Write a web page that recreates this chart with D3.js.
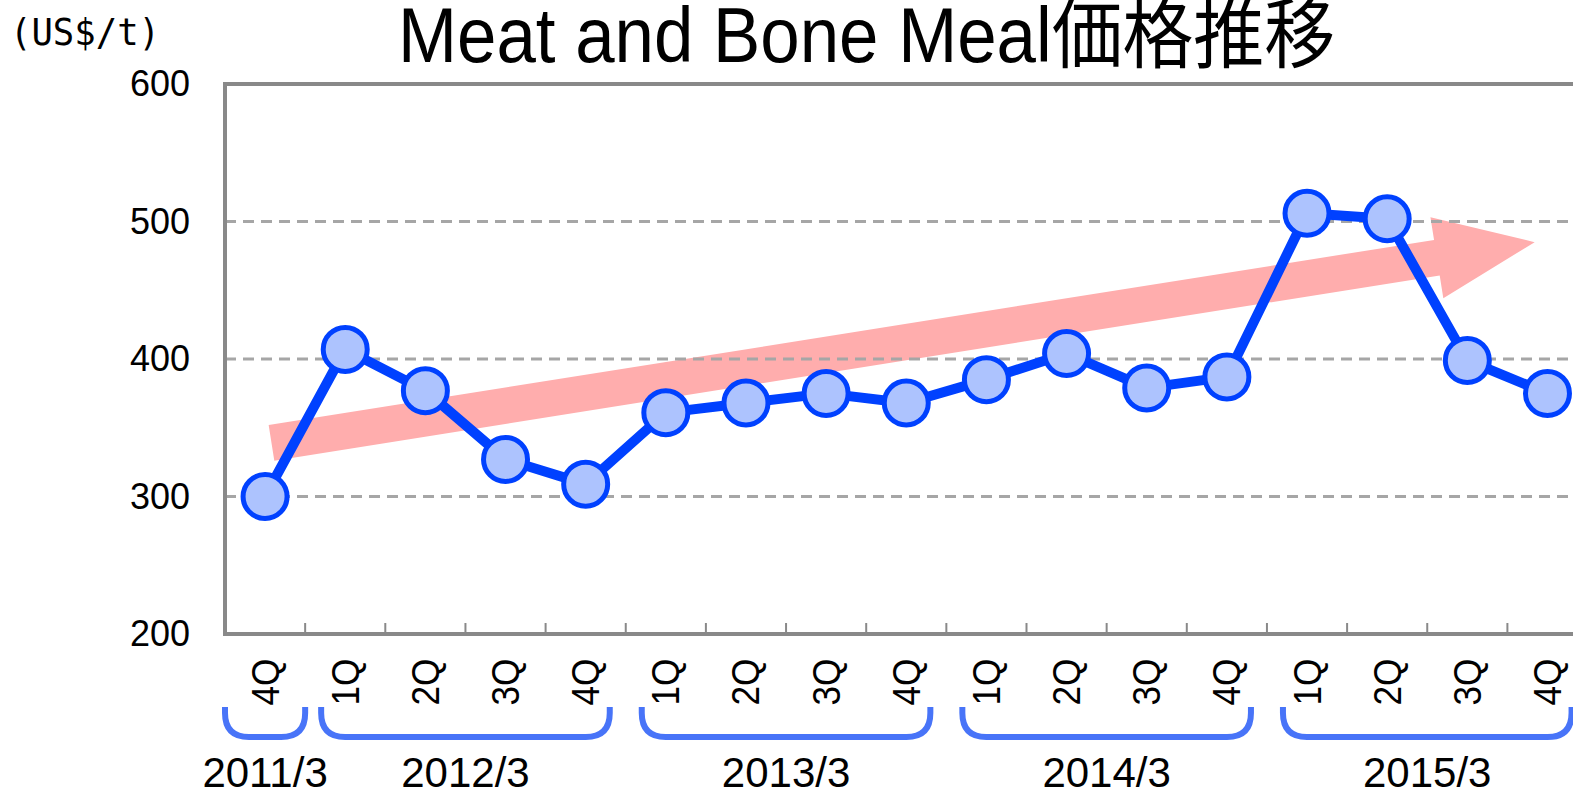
<!DOCTYPE html>
<html>
<head>
<meta charset="utf-8">
<script src="https://cdn.jsdelivr.net/npm/d3@7"></script>
<style>
    body { margin: 0; background: #fff; }
    svg { display: block; }
    .axis text { font-family: "Liberation Sans", Arial, sans-serif; fill: #000; }
</style>
</head>
<body>
<div id="chart"></div>
<script>
// chart data
const quarters = ["4Q", "1Q", "2Q", "3Q", "4Q", "1Q", "2Q", "3Q", "4Q", "1Q", "2Q", "3Q", "4Q", "1Q", "2Q", "3Q", "4Q"];
const prices = [300, 407, 377, 327, 309, 361, 368, 375, 368, 385, 404, 379, 387, 506, 502, 399, 375];
const fiscalYears = ["2011/3", "2012/3", "2013/3", "2014/3", "2015/3"];
const yearFirst = [0, 1, 5, 9, 13];
const yearLast = [0, 4, 8, 12, 16];
const yTicks = [200, 300, 400, 500, 600];
const yGrid = [300, 400, 500];
// trend arrow: [category index, price]
const trendFrom = [0.08, 339];
const trendTo = [15.84, 485];

const W = 1573, H = 789;
const margin = { top: 84, left: 225 };
const step = 80.15;
const plotW = step * quarters.length;
const plotH = 550;

const svg = d3.select("#chart").append("svg")
    .attr("width", W)
    .attr("height", H);

// title + unit
svg.append("text")
    .attr("x", 398)
    .attr("y", 62)
    .attr("textLength", 937)
    .attr("lengthAdjust", "spacingAndGlyphs")
    .style("font-family", "'Liberation Sans', 'Noto Sans CJK JP', sans-serif")
    .style("font-size", "77px")
    .text("Meat and Bone Meal価格推移");

svg.append("text")
    .attr("x", 10)
    .attr("y", 45)
    .attr("textLength", 150)
    .attr("lengthAdjust", "spacingAndGlyphs")
    .style("font-family", "'DejaVu Sans Mono', monospace")
    .style("font-size", "38px")
    .text("(US$/t)");

const g = svg.append("g")
    .attr("transform", "translate(" + margin.left + "," + margin.top + ")");

// scales
const x = d3.scaleBand()
    .domain(d3.range(quarters.length))
    .range([0, plotW])
    .padding(0);
const xc = i => x(i) + x.bandwidth() / 2;
const xf = v => v * step + step / 2; // fractional index
const y = d3.scaleLinear().domain([200, 600]).range([plotH, 0]);

// trend arrow (behind everything)
let ax0 = xf(trendFrom[0]), ay0 = y(trendFrom[1]);
let ax1 = xf(trendTo[0]), ay1 = y(trendTo[1]);
let len = Math.hypot(ax1 - ax0, ay1 - ay0);
let ang = Math.atan2(ay1 - ay0, ax1 - ax0) * 180 / Math.PI;
let headL = 99, headW = 41, shaftW = 18;
g.append("path")
    .attr("transform", "translate(" + ax0 + "," + ay0 + ") rotate(" + ang + ")")
    .attr("d", "M0," + (-shaftW) + "L" + (len - headL) + "," + (-shaftW) +
        "L" + (len - headL) + "," + (-headW) + "L" + len + ",0" +
        "L" + (len - headL) + "," + headW + "L" + (len - headL) + "," + shaftW +
        "L0," + shaftW + "Z")
    .style("fill", "#ffadad");

// gridlines
g.selectAll(".grid").data(yGrid).enter().append("line")
    .attr("class", "grid")
    .attr("x1", 0).attr("x2", plotW)
    .attr("y1", d => y(d)).attr("y2", d => y(d))
    .style("stroke", "#a6a6a6")
    .style("stroke-width", 3)
    .style("stroke-dasharray", "11,7");

// frame: top border, left axis, bottom axis
g.append("path")
    .attr("d", "M" + plotW + ",0L0,0L0," + plotH + "L" + plotW + "," + plotH)
    .style("fill", "none")
    .style("stroke", "#898989")
    .style("stroke-width", 4);

// inner ticks at category boundaries
g.selectAll(".xtick").data(d3.range(1, quarters.length)).enter().append("line")
    .attr("class", "xtick")
    .attr("x1", d => x(d)).attr("x2", d => x(d))
    .attr("y1", plotH).attr("y2", plotH - 11)
    .style("stroke", "#898989")
    .style("stroke-width", 2);

// y axis labels
const yAxis = d3.axisLeft(y).tickValues(yTicks).tickSize(0).tickPadding(35);
g.append("g")
    .attr("class", "axis")
    .call(yAxis)
    .call(s => s.select(".domain").remove())
    .selectAll("text")
    .style("font-size", "36px");

// quarter labels (rotated)
g.selectAll(".qlab").data(quarters).enter().append("text")
    .attr("class", "qlab")
    .attr("transform", (d, i) => "translate(" + xc(i) + "," + (plotH + 48) + ") rotate(-90)")
    .attr("text-anchor", "middle")
    .attr("dominant-baseline", "central")
    .attr("textLength", 47)
    .attr("lengthAdjust", "spacingAndGlyphs")
    .style("font-family", "'Liberation Sans', Arial, sans-serif")
    .style("font-size", "39px")
    .text(d => d);

// fiscal year brackets
const bTop = plotH + 73, bBot = plotH + 103, r = 24;
fiscalYears.forEach((lab, k) => {
    let pad = yearLast[k] > yearFirst[k] ? 16 : 0;
    let bx0 = x(yearFirst[k]) + pad;
    let bx1 = x(yearLast[k]) + x.bandwidth() - pad;
    g.append("path")
        .attr("d", "M" + bx0 + "," + bTop + "L" + bx0 + "," + (bBot - r) +
            "Q" + bx0 + "," + bBot + " " + (bx0 + r) + "," + bBot +
            "L" + (bx1 - r) + "," + bBot +
            "Q" + bx1 + "," + bBot + " " + bx1 + "," + (bBot - r) +
            "L" + bx1 + "," + bTop)
        .style("fill", "none")
        .style("stroke", "#4874f8")
        .style("stroke-width", 6);

    g.append("text")
        .attr("x", (bx0 + bx1) / 2)
        .attr("y", plotH + 153)
        .attr("text-anchor", "middle")
        .style("font-family", "'Liberation Sans', Arial, sans-serif")
        .style("font-size", "42px")
        .text(lab);
});

// price line
const line = d3.line()
    .x((d, i) => xc(i))
    .y(d => y(d));

g.append("path")
    .datum(prices)
    .attr("d", line)
    .style("fill", "none")
    .style("stroke", "#0041ff")
    .style("stroke-width", 10)
    .style("stroke-linejoin", "round");

g.selectAll(".dot").data(prices).enter().append("circle")
    .attr("class", "dot")
    .attr("cx", (d, i) => xc(i))
    .attr("cy", d => y(d))
    .attr("r", 22)
    .style("fill", "#adc3fe")
    .style("stroke", "#0041ff")
    .style("stroke-width", 5);
</script>
</body>
</html>
